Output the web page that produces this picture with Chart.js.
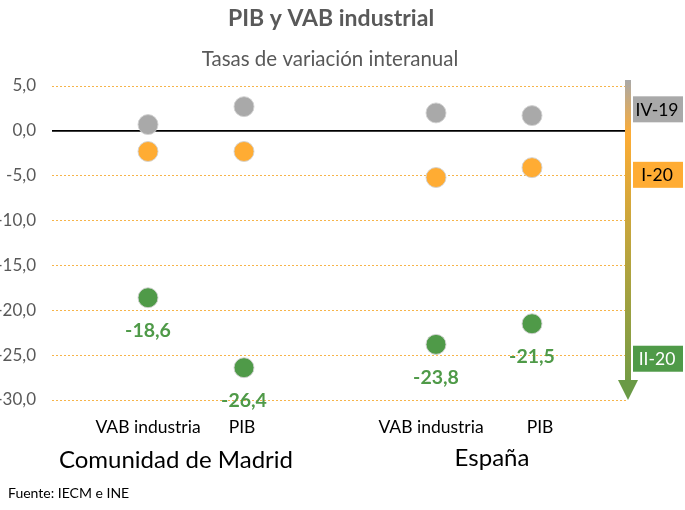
<!DOCTYPE html>
<html>
<head>
<meta charset="utf-8">
<script src="https://cdn.jsdelivr.net/npm/chart.js@4/dist/chart.umd.min.js"></script>
<style>
  html, body { margin: 0; padding: 0; background: #fff; }
  #wrap { width: 685px; height: 510px; position: relative; }
</style>
</head>
<body>
<div id="wrap"><canvas id="c" width="685" height="510"></canvas></div>
<script>
// ---- Data ----
const categories = ['VAB industria', 'PIB', 'VAB industria', 'PIB'];
const groups = ['Comunidad de Madrid', 'España'];
const periods = ['IV-19', 'I-20', 'II-20'];
const serieIV19 = [0.7, 2.7, 2.0, 1.7];
const serieI20 = [-2.3, -2.3, -5.2, -4.1];
const serieII20 = [-18.6, -26.4, -23.8, -21.5];
const yTicks = [5, 0, -5, -10, -15, -20, -25, -30];

const FONT = 'Lato, "Open Sans", sans-serif';
const colors = { gray: '#a9a9a9', orange: '#ffac33', green: '#4f9a48' };

// build category axis with spacer slots: '', A, B, '', C, D, ''
const labels = ['', categories[0], categories[1], '', categories[2], categories[3], ''];
function spread(arr) { return [null, arr[0], arr[1], null, arr[2], arr[3], null]; }

const fmt = v => v.toFixed(1).replace('.', ',');

const decor = {
  id: 'decor',
  beforeDatasetsDraw(chart) {
    const { ctx, chartArea, scales: { y } } = chart;
    const y0 = y.getPixelForValue(0);
    ctx.save();
    ctx.strokeStyle = '#000';
    ctx.lineWidth = 1.6;
    ctx.beginPath();
    ctx.moveTo(chartArea.left, y0);
    ctx.lineTo(chartArea.right - 3, y0);
    ctx.stroke();
    ctx.restore();
  },
  afterDraw(chart) {
    const { ctx, chartArea, scales: { x, y } } = chart;
    ctx.save();
    // titles
    ctx.fillStyle = '#595959';
    ctx.textAlign = 'center';
    ctx.textBaseline = 'middle';
    ctx.font = 'bold 23px ' + FONT;
    ctx.fillText('PIB y VAB industrial', 331, 19);
    ctx.font = '20.5px ' + FONT;
    ctx.fillText('Tasas de variación interanual', 330, 59);

    // category labels
    ctx.fillStyle = '#000';
    ctx.font = '17.5px ' + FONT;
    [1, 2, 4, 5].forEach((i, k) => {
      ctx.fillText(categories[k], x.getPixelForValue(i) + (k === 2 ? -5 : 0) + (k === 3 ? 8 : 0) + (k === 1 ? -2 : 0), 427);
    });
    // group labels
    ctx.font = '24px ' + FONT;
    ctx.fillText(groups[0], (x.getPixelForValue(1) + x.getPixelForValue(2)) / 2 - 20, 460);
    ctx.fillText(groups[1], (x.getPixelForValue(4) + x.getPixelForValue(5)) / 2 + 8, 458);
    // source
    ctx.textAlign = 'left';
    ctx.font = '14px ' + FONT;
    ctx.fillText('Fuente: IECM e INE', 8, 493);

    // data labels for II-20
    ctx.textAlign = 'center';
    ctx.fillStyle = colors.green;
    ctx.font = 'bold 19.5px ' + FONT;
    const meta = chart.getDatasetMeta(2);
    meta.data.forEach((pt, i) => {
      const v = chart.data.datasets[2].data[i];
      if (v === null || v === undefined) return;
      ctx.fillText(fmt(v), pt.x, pt.y + 33);
    });

    // arrow
    const ax = chartArea.right;
    const top = y.getPixelForValue(5) - 6;
    const tip = y.getPixelForValue(-30);
    const headTop = tip - 20;
    const grad = ctx.createLinearGradient(0, top, 0, tip);
    grad.addColorStop(0, '#a9a9a9');
    grad.addColorStop(0.17, '#fdac35');
    grad.addColorStop(0.45, '#c9a63c');
    grad.addColorStop(1, '#6a9a46');
    ctx.fillStyle = grad;
    ctx.fillRect(ax - 3, top, 6, headTop - top + 1);
    ctx.beginPath();
    ctx.moveTo(ax - 10, headTop);
    ctx.lineTo(ax + 10, headTop);
    ctx.lineTo(ax, tip);
    ctx.closePath();
    ctx.fillStyle = '#6a9a46';
    ctx.fill();

    // period boxes
    const boxes = [
      { t: periods[0], v: 2.4, bg: '#a9a9a9', fg: '#000' },
      { t: periods[1], v: -4.9, bg: '#ffac33', fg: '#000' },
      { t: periods[2], v: -25.4, bg: '#4f9a48', fg: '#fff' }
    ];
    ctx.font = '17.5px ' + FONT;
    boxes.forEach(b => {
      const cy = y.getPixelForValue(b.v);
      ctx.fillStyle = b.bg;
      ctx.fillRect(633, cy - 13, 50, 26);
      ctx.fillStyle = b.fg;
      ctx.fillText(b.t, 657, cy + 1);
    });
    ctx.restore();
  }
};

const mk = (label, data, color) => ({
  label,
  data: spread(data),
  showLine: false,
  pointRadius: 10,
  pointHoverRadius: 10,
  pointBackgroundColor: color,
  pointBorderColor: 'rgba(210,210,210,0.9)',
  pointBorderWidth: 1,
  borderColor: color,
  backgroundColor: color
});

new Chart(document.getElementById('c'), {
  type: 'line',
  data: {
    labels,
    datasets: [
      mk(periods[0], serieIV19, colors.gray),
      mk(periods[1], serieI20, colors.orange),
      mk(periods[2], serieII20, colors.green)
    ]
  },
  options: {
    responsive: false,
    animation: false,
    layout: { padding: { top: 86, bottom: 110, left: 0, right: 57 } },
    plugins: { legend: { display: false }, tooltip: { enabled: false }, title: { display: false } },
    scales: {
      x: {
        type: 'category',
        offset: false,
        display: false
      },
      y: {
        min: -30,
        max: 5,
        afterFit(scale) { scale.width = 52; },
        afterBuildTicks(scale) { scale.ticks = yTicks.map(v => ({ value: v })); },
        grid: {
          drawTicks: false,
          color: ctx => (ctx.tick && ctx.tick.value === 0) ? 'rgba(0,0,0,0)' : '#f6b44a',
          lineWidth: 1
        },
        border: { display: false, dash: [2, 2] },
        ticks: {
          padding: 16,
          color: '#595959',
          font: { family: FONT, size: 17 },
          callback: v => fmt(v)
        }
      }
    }
  },
  plugins: [decor]
});
</script>
</body>
</html>
